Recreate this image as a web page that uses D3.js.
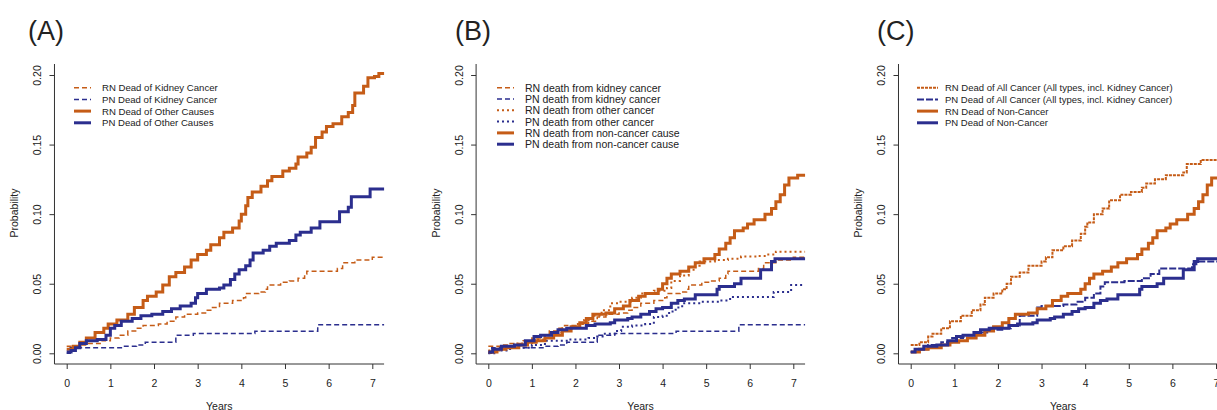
<!DOCTYPE html>
<html lang="en">
<head>
    <meta charset="UTF-8">
    <title>Cumulative incidence - RN vs PN</title>
    <script src="https://cdn.jsdelivr.net/npm/d3@7"></script>
    <style>
        body { margin: 0; background: #fff; }
        svg text { font-family: "Liberation Sans", Arial, sans-serif; fill: #222; }
    </style>
</head>
<body>
<div id="chart"></div>
<script>
    // step curves: [years, probability]
    const rnKidney = [[0,0.005],[0.3,0.006],[0.5,0.007],[0.8,0.009],[1.0,0.011],[1.2,0.013],[1.4,0.016],[1.6,0.018],[1.75,0.020],[2.1,0.021],[2.3,0.023],[2.5,0.026],[2.7,0.028],[3.0,0.029],[3.2,0.031],[3.3,0.033],[3.5,0.036],[3.8,0.038],[4.05,0.040],[4.1,0.043],[4.4,0.044],[4.55,0.046],[4.6,0.049],[4.9,0.051],[5.1,0.052],[5.3,0.054],[5.45,0.057],[5.5,0.059],[6.2,0.061],[6.32,0.065],[6.6,0.067],[7.0,0.069],[7.27,0.069]];
    const pnKidney = [[0,0.0],[0.08,0.004],[1.3,0.005],[1.6,0.006],[1.8,0.008],[2.5,0.013],[2.9,0.0143],[4.31,0.0158],[5.75,0.0205],[7.27,0.0205]];
    const rnOtherCauses = [[0,0.003],[0.15,0.005],[0.3,0.008],[0.45,0.011],[0.65,0.015],[0.85,0.018],[0.95,0.021],[1.15,0.024],[1.4,0.028],[1.55,0.033],[1.75,0.038],[1.85,0.041],[2.05,0.044],[2.2,0.049],[2.35,0.055],[2.5,0.058],[2.7,0.062],[2.85,0.067],[3.0,0.071],[3.2,0.074],[3.3,0.078],[3.5,0.083],[3.6,0.087],[3.8,0.090],[3.95,0.095],[4.0,0.100],[4.1,0.106],[4.15,0.112],[4.25,0.116],[4.45,0.120],[4.6,0.124],[4.7,0.127],[4.95,0.131],[5.1,0.133],[5.25,0.136],[5.3,0.141],[5.5,0.144],[5.6,0.148],[5.7,0.155],[5.85,0.159],[5.95,0.163],[6.1,0.165],[6.3,0.170],[6.45,0.173],[6.55,0.178],[6.6,0.187],[6.8,0.192],[6.9,0.198],[7.05,0.199],[7.15,0.201],[7.27,0.201]];
    const pnOtherCauses = [[0,0.001],[0.1,0.002],[0.2,0.004],[0.3,0.007],[0.45,0.009],[0.7,0.010],[0.9,0.013],[1.0,0.018],[1.1,0.020],[1.25,0.023],[1.5,0.025],[1.7,0.027],[1.95,0.028],[2.2,0.030],[2.4,0.032],[2.6,0.034],[2.85,0.036],[2.95,0.040],[3.0,0.043],[3.2,0.046],[3.5,0.047],[3.6,0.049],[3.75,0.053],[3.85,0.057],[3.95,0.060],[4.1,0.063],[4.2,0.067],[4.27,0.072],[4.5,0.074],[4.65,0.077],[4.8,0.079],[5.1,0.081],[5.25,0.085],[5.35,0.087],[5.6,0.090],[5.8,0.0946],[6.25,0.1018],[6.45,0.105],[6.52,0.1125],[6.95,0.118],[7.27,0.118]];
    const rnOtherCancer = [[0,0.002],[0.3,0.004],[0.6,0.007],[1.0,0.010],[1.3,0.013],[1.5,0.015],[1.7,0.018],[2.0,0.021],[2.2,0.024],[2.4,0.027],[2.6,0.031],[2.8,0.036],[3.0,0.037],[3.3,0.040],[3.5,0.043],[3.8,0.045],[4.1,0.047],[4.2,0.052],[4.4,0.056],[4.6,0.060],[4.75,0.063],[4.85,0.066],[5.2,0.067],[5.5,0.068],[5.8,0.0695],[6.2,0.070],[6.4,0.071],[6.6,0.073],[7.27,0.073]];
    const pnOtherCancer = [[0,0.0],[0.2,0.002],[0.5,0.004],[1.0,0.006],[1.3,0.009],[1.8,0.010],[2.3,0.011],[2.5,0.012],[2.65,0.014],[2.9,0.016],[3.05,0.019],[3.3,0.020],[3.6,0.021],[3.8,0.026],[4.0,0.027],[4.15,0.030],[4.3,0.033],[4.45,0.036],[4.9,0.037],[5.3,0.038],[5.55,0.0405],[6.55,0.044],[6.95,0.049],[7.27,0.049]];
    const rnNonCancer = [[0,0.001],[0.2,0.003],[0.4,0.004],[0.7,0.006],[0.9,0.008],[1.1,0.009],[1.3,0.011],[1.5,0.013],[1.7,0.016],[1.9,0.019],[2.1,0.022],[2.25,0.025],[2.4,0.028],[2.7,0.029],[2.9,0.032],[3.1,0.034],[3.25,0.038],[3.45,0.041],[3.6,0.043],[3.9,0.046],[4.0,0.050],[4.1,0.054],[4.2,0.057],[4.4,0.059],[4.6,0.062],[4.75,0.065],[4.95,0.068],[5.2,0.071],[5.3,0.075],[5.45,0.079],[5.55,0.083],[5.65,0.088],[5.85,0.090],[5.95,0.093],[6.1,0.096],[6.35,0.100],[6.5,0.104],[6.6,0.109],[6.7,0.114],[6.8,0.121],[6.9,0.126],[7.1,0.128],[7.27,0.128]];
    const pnNonCancer = [[0,0.001],[0.1,0.003],[0.3,0.005],[0.6,0.006],[0.85,0.009],[1.05,0.012],[1.2,0.013],[1.45,0.015],[1.6,0.017],[1.8,0.018],[2.25,0.020],[2.45,0.021],[2.8,0.022],[2.9,0.024],[3.2,0.025],[3.3,0.026],[3.5,0.028],[3.7,0.030],[3.85,0.032],[4.0,0.033],[4.2,0.036],[4.35,0.038],[4.5,0.039],[4.75,0.042],[5.25,0.046],[5.3,0.048],[5.65,0.050],[5.8,0.054],[6.25,0.060],[6.5,0.066],[6.58,0.068],[7.27,0.068]];
    const rnAllCancer = [[0,0.006],[0.2,0.008],[0.4,0.012],[0.5,0.014],[0.7,0.018],[0.9,0.023],[1.15,0.027],[1.4,0.031],[1.6,0.035],[1.7,0.040],[1.9,0.043],[2.1,0.046],[2.2,0.050],[2.3,0.055],[2.5,0.058],[2.7,0.063],[3.0,0.066],[3.1,0.069],[3.25,0.074],[3.5,0.077],[3.7,0.081],[3.9,0.086],[4.0,0.091],[4.05,0.094],[4.2,0.100],[4.4,0.104],[4.55,0.110],[4.8,0.114],[5.05,0.116],[5.3,0.119],[5.4,0.122],[5.6,0.125],[5.85,0.128],[6.25,0.130],[6.33,0.136],[6.65,0.139],[7.27,0.139]];
    const pnAllCancer = [[0,0.001],[0.15,0.003],[0.4,0.006],[0.7,0.008],[0.95,0.011],[1.2,0.013],[1.5,0.015],[1.8,0.017],[2.1,0.018],[2.3,0.020],[2.5,0.027],[2.9,0.033],[3.0,0.034],[3.5,0.035],[3.8,0.037],[4.0,0.040],[4.2,0.043],[4.35,0.048],[4.45,0.051],[4.9,0.052],[5.3,0.054],[5.5,0.057],[5.7,0.061],[6.45,0.064],[6.55,0.066],[7.27,0.066]];

    const xTicks = [0, 1, 2, 3, 4, 5, 6, 7];
    const yTicks = [0, 0.05, 0.10, 0.15, 0.20];
    const yTickLabels = ["0.00", "0.05", "0.10", "0.15", "0.20"];

    const orange = "#c55c17";
    const blue = "#2b2e8e";

    // line styles
    const kidneyDash = { width: 1.5, dash: "5,3" };
    const thick = { width: 3, dash: null };
    const dots = { width: 2, dash: "2,3" };

    const panels = [
        {
            tag: "(A)", tagX: 28, x0: 66.7, x7: 372.3, legX: 74, legLen: 17,
            rowGap: 11.7, legFont: 9.6,
            series: [
                { label: "RN Dead of Kidney Cancer", data: rnKidney, color: orange, style: kidneyDash },
                { label: "PN Dead of Kidney Cancer", data: pnKidney, color: blue, style: kidneyDash },
                { label: "RN Dead of Other Causes", data: rnOtherCauses, color: orange, style: thick },
                { label: "PN Dead of Other Causes", data: pnOtherCauses, color: blue, style: thick }
            ]
        },
        {
            tag: "(B)", tagX: 455, x0: 488.3, x7: 793.3, legX: 497, legLen: 17,
            rowGap: 11.3, legFont: 10.5,
            series: [
                { label: "RN death from kidney cancer", data: rnKidney, color: orange, style: kidneyDash },
                { label: "PN death from kidney cancer", data: pnKidney, color: blue, style: kidneyDash },
                { label: "RN death from  other cancer", data: rnOtherCancer, color: orange, style: dots },
                { label: "PN death from other cancer", data: pnOtherCancer, color: blue, style: dots },
                { label: "RN death from non-cancer cause", data: rnNonCancer, color: orange, style: thick },
                { label: "PN death from non-cancer cause", data: pnNonCancer, color: blue, style: thick }
            ]
        },
        {
            tag: "(C)", tagX: 877, x0: 910.7, x7: 1216, legX: 917, legLen: 21,
            rowGap: 11.7, legFont: 9.5,
            series: [
                { label: "RN Dead of All Cancer (All types, incl. Kidney Cancer)", data: rnAllCancer, color: orange, style: { width: 2, dash: "3,1" } },
                { label: "PN Dead of All Cancer (All types, incl. Kidney Cancer)", data: pnAllCancer, color: blue, style: { width: 2, dash: "7,2" } },
                { label: "RN Dead of Non-Cancer", data: rnNonCancer, color: orange, style: thick },
                { label: "PN Dead of Non-Cancer", data: pnNonCancer, color: blue, style: thick }
            ]
        }
    ];

    const W = 1217, H = 410;
    const boxTop = 64, boxBottom = 364;

    const svg = d3.select("#chart")
        .append("svg")
        .attr("width", W)
        .attr("height", H);

    panels.forEach(p => {
        const x = d3.scaleLinear().domain([0, 7]).range([p.x0, p.x7]);
        const y = d3.scaleLinear().domain([0, 0.2]).range([353.3, 75]);
        const left = x(-0.28);
        const right = x(7.27);

        const g = svg.append("g");

        // panel tag
        g.append("text")
            .attr("x", p.tagX)
            .attr("y", 39.5)
            .attr("font-size", 27)
            .text(p.tag);

        // L shaped box
        g.append("path")
            .attr("d", `M${left},${boxTop}V${boxBottom}H${right}`)
            .attr("fill", "none")
            .attr("stroke", "#333")
            .attr("stroke-width", 1);

        // y axis
        const yAxis = d3.axisLeft(y)
            .tickValues(yTicks)
            .tickSize(5)
            .tickFormat((d, i) => yTickLabels[i]);
        const ya = g.append("g")
            .attr("transform", `translate(${left},0)`)
            .call(yAxis);
        ya.select(".domain").remove();
        ya.selectAll(".tick line").attr("stroke", "#333");
        ya.selectAll(".tick text")
            .attr("font-size", 10.5)
            .attr("fill", "#222")
            .attr("x", 0).attr("dy", 0)
            .attr("text-anchor", "middle")
            .attr("transform", "translate(-17,0) rotate(-90) translate(0,3.5)");

        // x axis
        const xAxis = d3.axisBottom(x)
            .tickValues(xTicks)
            .tickSize(5)
            .tickFormat(d3.format("d"));
        const xa = g.append("g")
            .attr("transform", `translate(0,${boxBottom})`)
            .call(xAxis);
        xa.select(".domain").remove();
        xa.selectAll(".tick line").attr("stroke", "#333");
        xa.selectAll(".tick text")
            .attr("font-size", 10.5)
            .attr("fill", "#222")
            .attr("y", 19)
            .attr("dy", 0)
            .attr("dominant-baseline", "central");

        // axis titles
        g.append("text")
            .attr("x", (left + right) / 2)
            .attr("y", 409.5)
            .attr("text-anchor", "middle")
            .attr("font-size", 10.5)
            .text("Years");
        g.append("text")
            .attr("transform", `translate(${left - 40},213) rotate(-90)`)
            .attr("text-anchor", "middle")
            .attr("dominant-baseline", "central")
            .attr("font-size", 10.5)
            .text("Probability");

        // curves
        const line = d3.line()
            .x(d => x(d[0]))
            .y(d => y(d[1]))
            .curve(d3.curveStepAfter);

        g.selectAll(".curve")
            .data(p.series)
            .join("path")
            .attr("class", "curve")
            .attr("d", d => line(d.data))
            .attr("fill", "none")
            .attr("stroke", d => d.color)
            .attr("stroke-width", d => d.style.width)
            .attr("stroke-dasharray", d => d.style.dash);

        // legend
        const leg = g.append("g");
        p.series.forEach((s, i) => {
            const ry = 87.7 + i * p.rowGap;
            leg.append("line")
                .attr("x1", p.legX).attr("x2", p.legX + p.legLen)
                .attr("y1", ry).attr("y2", ry)
                .attr("stroke", s.color)
                .attr("stroke-width", s.style.width)
                .attr("stroke-dasharray", s.style.dash);
            leg.append("text")
                .attr("x", p.legX + 28)
                .attr("y", ry)
                .attr("dominant-baseline", "central")
                .attr("font-size", p.legFont)
                .text(s.label);
        });
    });
</script>
</body>
</html>
